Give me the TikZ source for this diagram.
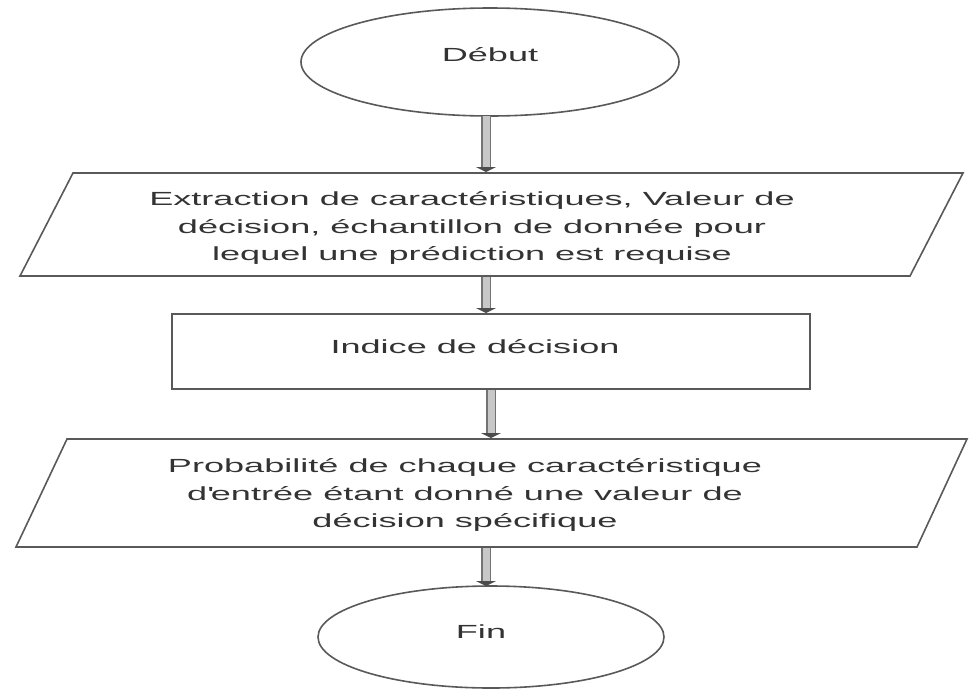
\documentclass[tikz,border=0pt]{standalone}
\usepackage{fontspec}
\setmainfont{Liberation Sans}[FakeStretch=1.9]
\usetikzlibrary{shapes.geometric,arrows.meta}

\tikzset{
  outline/.style={draw=black!65, line width=1.6pt},
  terminal/.style={outline, ellipse, inner sep=0pt},
  label/.style={align=center, inner sep=0pt, font=\fontsize{19}{27.5}\selectfont, text=black!80},
  flowshaft/.style={draw=black!55, line width=1.3pt, double=black!22, double distance=7pt,
                    shorten >=4pt},
  flowtip/.pic={\fill[black!70] (-10pt,5pt) -- (10pt,5pt) -- (0,0) -- cycle;}
}

\begin{document}
\begin{tikzpicture}[x=1pt, y=-1pt]
  \useasboundingbox (0,0) rectangle (969,689);

  % start and end terminals
  \node[terminal, minimum width=378pt, minimum height=108pt] (debut) at (490,62) {};
  \node[label] (tdebut) at (490,55) {Début};

  \node[terminal, minimum width=346pt, minimum height=102pt] (fin) at (491,637) {};
  \node[label] (tfin) at (481,632) {Fin};

  % first input/output block
  \coordinate (p1a) at (73,173);
  \coordinate (p1b) at (963,173);
  \coordinate (p1c) at (910,276);
  \coordinate (p1d) at (20,276);
  \draw[outline, line join=miter] (p1a) -- (p1b) -- (p1c) -- (p1d) -- cycle;
  \node[label] (tp1) at (472,228) {Extraction de caractéristiques, Valeur de\\
    décision, échantillon de donnée pour\\ lequel une prédiction est requise};

  % process block
  \node[outline, rectangle, minimum width=638pt, minimum height=75pt, inner sep=0pt]
    (indice) at (491,351.5) {};
  \node[label] (tindice) at (475,347) {Indice de décision};

  % second input/output block
  \coordinate (p2a) at (67,439);
  \coordinate (p2b) at (967,439);
  \coordinate (p2c) at (917,547);
  \coordinate (p2d) at (16,547);
  \draw[outline, line join=miter] (p2a) -- (p2b) -- (p2c) -- (p2d) -- cycle;
  \node[label] (tp2) at (465,495) {Probabilité de chaque caractéristique\\
    d\textquotesingle entrée étant donné une valeur de\\ décision spécifique};

  % connector end points
  \coordinate (a1s) at (486,116);  \coordinate (a1e) at (486,172);
  \coordinate (a2s) at (486,277);  \coordinate (a2e) at (486,313);
  \coordinate (a3s) at (491,390);  \coordinate (a3e) at (491,438);
  \coordinate (a4s) at (486,548);  \coordinate (a4e) at (486,586);

  % connectors: hollow shaft with a small dark head
  \foreach \s/\e in {a1s/a1e, a2s/a2e, a3s/a3e, a4s/a4e} {
    \draw[flowshaft] (\s) -- (\e);
    \pic at (\e) {flowtip};
  }
\end{tikzpicture}
\end{document}
